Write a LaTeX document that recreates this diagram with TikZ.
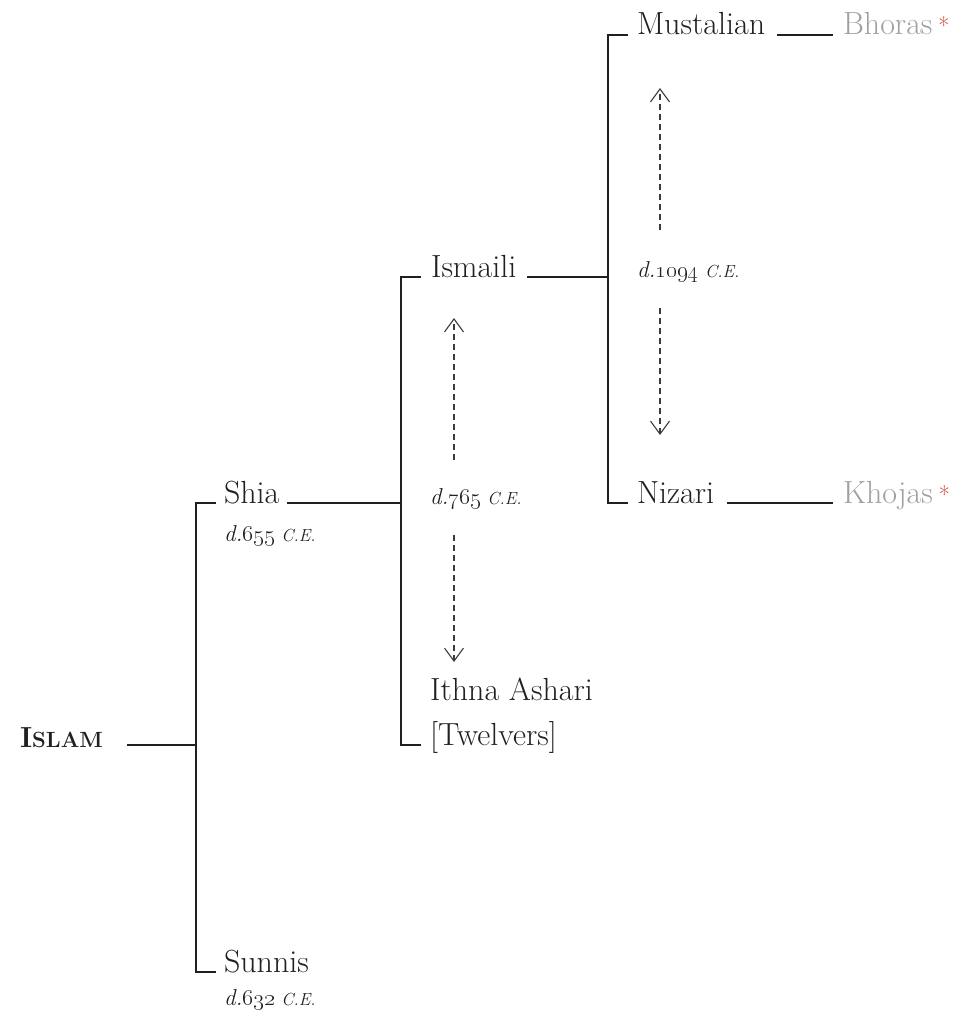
\RequirePackage{fix-cm}
\documentclass[tikz,border=0pt]{standalone}
\usetikzlibrary{arrows.meta}
\definecolor{ink}{RGB}{35,31,32}
\definecolor{grtxt}{RGB}{160,160,162}
\definecolor{startxt}{RGB}{205,60,45}
\definecolor{dashink}{RGB}{60,60,60}
\newcommand{\dateline}[1]{{\fontsize{23}{27}\selectfont\itshape d.\oldstylenums{#1}\hspace{0.28em}{\fontsize{17.5}{20}\selectfont C.E.}}}
\tikzset{
  lbl/.style={anchor=base west,inner sep=0pt,outer sep=0pt,text=ink,font=\fontsize{32}{38}\selectfont},
  sub/.style={anchor=base west,inner sep=0pt,outer sep=0pt,text=ink},
  greylbl/.style={anchor=base west,inner sep=0pt,outer sep=0pt,text=grtxt,font=\fontsize{32}{38}\selectfont},
  asterisk/.style={anchor=base west,inner sep=0pt,outer sep=0pt,text=startxt,font=\fontsize{24}{28}\selectfont},
  branch/.style={draw=ink,line width=2.2pt},
  span/.style={draw=dashink,line width=1.1pt,dash pattern=on 6pt off 4pt,-{Straight Barb[length=13pt,width=19pt,line width=1.1pt]}}
}
\begin{document}
\begin{tikzpicture}[x=1pt,y=-1pt]
\useasboundingbox (0,0) rectangle (953,1011);
% Islam
\node[sub] (islam) at (20,747) {\fontsize{29}{34}\selectfont\bfseries I{\fontsize{22}{26}\selectfont SLAM}};
\coordinate (islamR) at (127,745);
\coordinate (j1) at (196,745);
\coordinate (j1top) at (196,503);
\coordinate (j1bot) at (196,972);
\coordinate (shiaS) at (216,503);
\coordinate (sunS) at (216,972);
\node[lbl] (shia) at (224,503) {Shia};
\node[sub] (shiad) at (224,541) {\dateline{655}};
\node[lbl] (sunnis) at (224,972) {Sunnis};
\node[sub] (sunnisd) at (224,1005) {\dateline{632}};
\draw[branch] (islamR) -- (j1);
\draw[branch] (shiaS) -- (j1top) -- (j1bot) -- (sunS);
% Shia branch
\coordinate (shiaR) at (287,503);
\coordinate (j2) at (401,503);
\coordinate (j2top) at (401,277);
\coordinate (j2bot) at (401,745);
\coordinate (ismS) at (421,277);
\coordinate (ithS) at (421,745);
\draw[branch] (shiaR) -- (j2);
\draw[branch] (ismS) -- (j2top) -- (j2bot) -- (ithS);
\node[lbl] (ismaili) at (431,277) {Ismaili};
\node[lbl] (ithna) at (430,700) {Ithna Ashari};
\node[lbl] (twelvers) at (430,745) {[Twelvers]};
\node[sub] (d765) at (430,504) {\dateline{765}};
\coordinate (a1s) at (454,460);
\coordinate (a1e) at (454,318);
\coordinate (a2s) at (454,535);
\coordinate (a2e) at (454,662);
\draw[span] (a1s) -- (a1e);
\draw[span] (a2s) -- (a2e);
% Ismaili branch
\coordinate (ismR) at (527,277);
\coordinate (j3) at (608,277);
\coordinate (j3top) at (608,35);
\coordinate (j3bot) at (608,503);
\coordinate (musS) at (628,35);
\coordinate (nizS) at (628,503);
\draw[branch] (ismR) -- (j3);
\draw[branch] (musS) -- (j3top) -- (j3bot) -- (nizS);
\node[lbl] (mustalian) at (637,35) {Mustalian};
\node[lbl] (nizari) at (637,503) {Nizari};
\node[sub] (d1094) at (637,277) {\dateline{1094}};
\coordinate (b1s) at (660,230);
\coordinate (b1e) at (660,88);
\coordinate (b2s) at (660,308);
\coordinate (b2e) at (660,435);
\draw[span] (b1s) -- (b1e);
\draw[span] (b2s) -- (b2e);
% leaves
\coordinate (musR) at (777,35);
\coordinate (bhoL) at (833,35);
\coordinate (nizR) at (727,503);
\coordinate (khoL) at (833,503);
\draw[draw=ink,line width=1.6pt] (musR) -- (bhoL);
\draw[draw=ink,line width=1.6pt] (nizR) -- (khoL);
\node[greylbl] (bhoras) at (843,35) {Bhoras};
\node[asterisk] (bstar) at ([xshift=6pt]bhoras.base east) {*};
\node[greylbl] (khojas) at (843,503) {Khojas};
\node[asterisk] (kstar) at ([xshift=6pt]khojas.base east) {*};
\end{tikzpicture}
\end{document}
